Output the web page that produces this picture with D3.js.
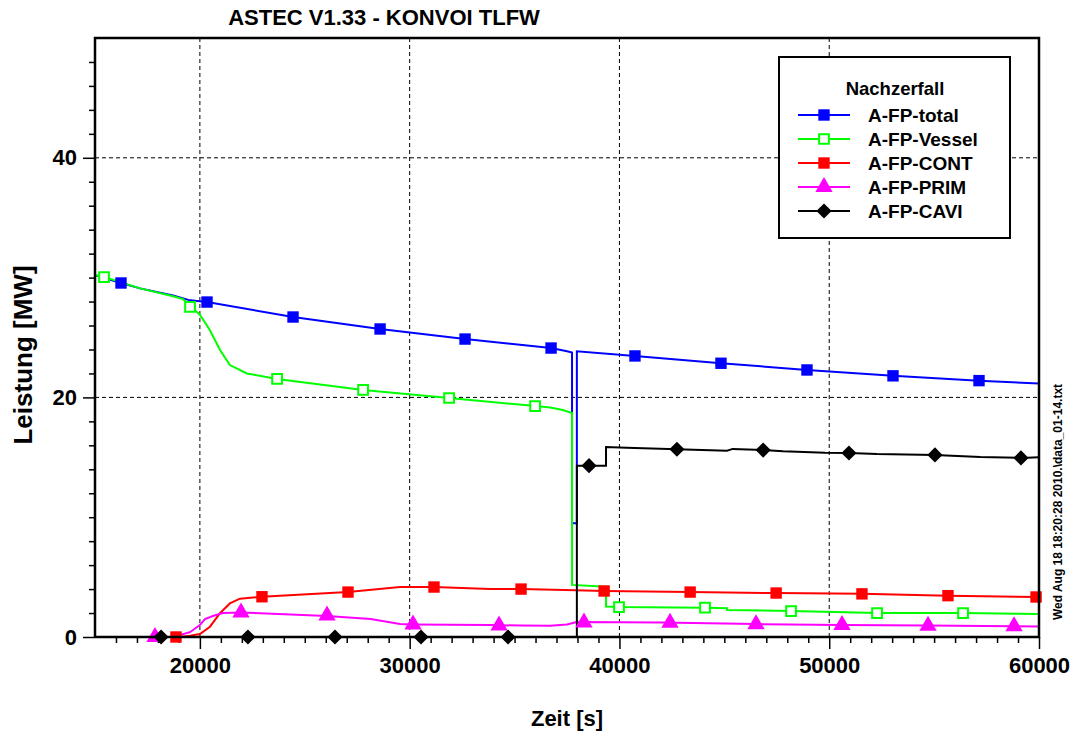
<!DOCTYPE html>
<html><head><meta charset="utf-8">
<script src="https://cdn.jsdelivr.net/npm/d3@7"></script>
<style>body{margin:0;background:#fff}svg{display:block}text{font-family:"Liberation Sans",Arial,sans-serif;font-weight:bold}</style>
</head><body><svg id="c" width="1073" height="731"></svg>
<script>
// ---- data ----
const seriesNames = ["A-FP-total","A-FP-Vessel","A-FP-CONT","A-FP-PRIM","A-FP-CAVI"];
const xTicks = [20000,30000,40000,50000,60000];
const yTicks = [0,20,40];

const totalX = [15000,16240,17150,18720,19530,20340,24440,28590,32640,36740,37500,37740,37740,37970,37970,40740,44840,48940,53040,57140,60000];
const totalY = [30.2,29.55,29.1,28.5,28.1,27.96,26.71,25.71,24.87,24.12,23.85,23.75,9.5,9.5,23.85,23.46,22.85,22.29,21.8,21.4,21.15];
const totalMX = [16240,20340,24440,28590,32640,36740,40740,44840,48940,53040,57140];
const totalMY = [29.55,27.96,26.71,25.71,24.87,24.12,23.46,22.85,22.29,21.8,21.4];

const vesselX = [15000,15430,17150,18720,19200,19580,20000,20480,20960,21430,22240,23680,27780,31880,35980,36700,37300,37740,37740,39360,39360,39980,44080,45130,45130,48180,52280,56380,60000];
const vesselY = [30.2,30.05,29.1,28.45,28.2,27.55,26.9,25.6,23.96,22.7,22.0,21.54,20.62,19.95,19.28,19.15,18.95,18.7,4.35,4.2,2.55,2.5,2.45,2.4,2.25,2.17,2.0,2.0,1.92];
const vesselMX = [15430,19530,23680,27780,31880,35980,39980,44080,48180,52280,56380];
const vesselMY = [30.05,27.55,21.54,20.62,19.95,19.28,2.5,2.45,2.17,2.0,2.0];

const contX = [15000,19050,19530,20000,20480,20960,21430,21910,22960,27060,29540,31160,33830,35310,37900,39270,43370,47470,51560,55660,60000];
const contY = [0,0,0.1,0.25,0.86,2.0,2.8,3.2,3.36,3.75,4.17,4.17,4.0,4.0,3.9,3.84,3.75,3.67,3.6,3.45,3.34];
const contMX = [18860,22960,27060,31160,35310,39270,43370,47470,51560,55660,59860];
const contMY = [0,3.36,3.75,4.17,4.0,3.84,3.75,3.67,3.6,3.45,3.34];

const primX = [15000,18580,19050,19530,20000,20240,20620,21100,21960,26060,28140,29540,30160,33830,35300,36700,37500,37970,42000,46500,50600,54700,58800,60000];
const primY = [0,0,0.17,0.4,1.0,1.5,1.75,2.0,2.05,1.75,1.5,1.08,1.05,1.0,0.95,0.93,1.05,1.25,1.2,1.08,1.0,0.95,0.9,0.87];
const primMX = [17860,21960,26060,30160,34260,38310,42410,46510,50610,54710,58810];
const primMY = [0,2.05,1.8,1.05,0.95,1.22,1.18,1.07,1.0,0.94,0.9];

const caviX = [15000,37970,37970,39360,39360,40340,42740,45130,45400,46850,47800,49800,50940,52280,55040,57200,59140,60000];
const caviY = [0,0,14.3,14.3,15.86,15.8,15.67,15.55,15.7,15.6,15.5,15.38,15.36,15.27,15.2,15.02,14.95,15.0];
const caviMX = [18150,22290,26440,30540,34690,38550,42740,46850,50940,55040,59140];
const caviMY = [0,0,0,0,0,14.3,15.67,15.6,15.36,15.2,14.95];

const colors = ["#0000ff","#00ff00","#ff0000","#ff00ff","#000000"];
const symbols = ["square","squareOpen","square","triangle","diamond"];

// ---- layout ----
const svg = d3.select("#c");
const L=95, R=1039, T=38, B=637;
const x = d3.scaleLinear().domain([15000,60000]).range([L,R]);
const y = d3.scaleLinear().domain([0,50]).range([B,T]);

// grid
const g = svg.append("g");
g.selectAll("line.gx").data(xTicks.filter(d=>d<60000)).join("line")
  .attr("x1",d=>x(d)).attr("x2",d=>x(d)).attr("y1",T).attr("y2",B)
  .attr("stroke","#000").attr("stroke-width",1).attr("stroke-dasharray","4,3");
g.selectAll("line.gy").data(yTicks.filter(d=>d>0)).join("line")
  .attr("y1",d=>y(d)).attr("y2",d=>y(d)).attr("x1",L).attr("x2",R)
  .attr("stroke","#000").attr("stroke-width",1).attr("stroke-dasharray","4,3");

// axes
const xMinor = d3.range(16000,60000,1000).filter(d=>!xTicks.includes(d));
const yMinor = d3.range(2,50,2).filter(d=>!yTicks.includes(d));
const ax = svg.append("g").attr("transform",`translate(0,${B})`);
ax.call(d3.axisBottom(x).tickValues(xMinor).tickSize(6).tickFormat(""));
ax.call(g2=>g2.select(".domain").remove());
const ax2 = svg.append("g").attr("transform",`translate(0,${B})`)
  .call(d3.axisBottom(x).tickValues(xTicks).tickSize(12).tickPadding(8).tickFormat(d3.format("d")));
ax2.select(".domain").remove();
ax2.selectAll("text").attr("font-size",22).attr("fill","#000").attr("dy","0.72em");
const ay = svg.append("g").attr("transform",`translate(${L},0)`);
ay.call(d3.axisLeft(y).tickValues(yMinor).tickSize(6).tickFormat(""));
ay.select(".domain").remove();
const ay2 = svg.append("g").attr("transform",`translate(${L},0)`)
  .call(d3.axisLeft(y).tickValues(yTicks).tickSize(12).tickPadding(6).tickFormat(d3.format("d")));
ay2.select(".domain").remove();
ay2.selectAll("text").attr("font-size",22).attr("fill","#000");
svg.selectAll(".tick line").attr("stroke","#000").attr("stroke-width",1.5);

// series
const datasets = [
  [totalX,totalY,totalMX,totalMY],
  [vesselX,vesselY,vesselMX,vesselMY],
  [contX,contY,contMX,contMY],
  [primX,primY,primMX,primMY],
  [caviX,caviY,caviMX,caviMY]
];
const line = d3.line().x(d=>x(d[0])).y(d=>y(d[1]));
const sym = {square:d3.symbolSquare, squareOpen:d3.symbolSquare, triangle:d3.symbolTriangle, diamond:d3.symbolSquare};
const symSize = {square:130, squareOpen:95, triangle:130, diamond:115};
function drawMarker(sel, s, c){
  sel.attr("d", d3.symbol().type(sym[s]).size(symSize[s]))
    .attr("fill", s==="squareOpen" ? "#fff" : c)
    .attr("stroke", c).attr("stroke-width", s==="squareOpen"?2:0);
}
const rot = s => s==="diamond" ? " rotate(45)" : "";
datasets.forEach((ds,i)=>{
  const pts = ds[0].map((v,j)=>[v,ds[1][j]]);
  svg.append("path").datum(pts).attr("d",line).attr("fill","none")
    .attr("stroke",colors[i]).attr("stroke-width",2);
});
datasets.forEach((ds,i)=>{
  const mp = ds[2].map((v,j)=>[v,ds[3][j]]);
  svg.append("g").selectAll("path").data(mp).join("path")
    .attr("transform",d=>`translate(${x(d[0])},${y(d[1])})${rot(symbols[i])}`)
    .call(drawMarker, symbols[i], colors[i]);
});

// frame
svg.append("path").attr("d",`M${L},${B}V${T}H${R}V${B}H${L}`).attr("fill","none")
  .attr("stroke","#000").attr("stroke-width",2.5);

// title & labels
svg.append("text").attr("x",384).attr("y",25).attr("text-anchor","middle").attr("font-size",22)
  .text("ASTEC V1.33 - KONVOI TLFW");
svg.append("text").attr("x",567).attr("y",726).attr("text-anchor","middle").attr("font-size",22)
  .text("Zeit [s]");
svg.append("text").attr("transform","translate(32,355) rotate(-90)").attr("text-anchor","middle").attr("font-size",26)
  .text("Leistung [MW]");
svg.append("text").attr("transform","translate(1062,502) rotate(-90)").attr("text-anchor","middle").attr("font-size",12)
  .text("Wed Aug 18 18:20:28 2010.\\data_01-14.txt");

// legend
const lg = svg.append("g");
lg.append("rect").attr("x",779).attr("y",57).attr("width",231).attr("height",181)
  .attr("fill","#fff").attr("stroke","#000").attr("stroke-width",2);
lg.append("text").attr("x",895).attr("y",95).attr("text-anchor","middle").attr("font-size",18.5).text("Nachzerfall");
const rows = [115,139,163,187,211];
seriesNames.forEach((n,i)=>{
  lg.append("line").attr("x1",798).attr("x2",850).attr("y1",rows[i]).attr("y2",rows[i])
    .attr("stroke",colors[i]).attr("stroke-width",2);
  lg.append("path").attr("transform",`translate(824,${rows[i]})${rot(symbols[i])}`).call(drawMarker, symbols[i], colors[i]);
  lg.append("text").attr("x",868).attr("y",rows[i]+7).attr("font-size",19).text(n);
});
</script></body></html>
